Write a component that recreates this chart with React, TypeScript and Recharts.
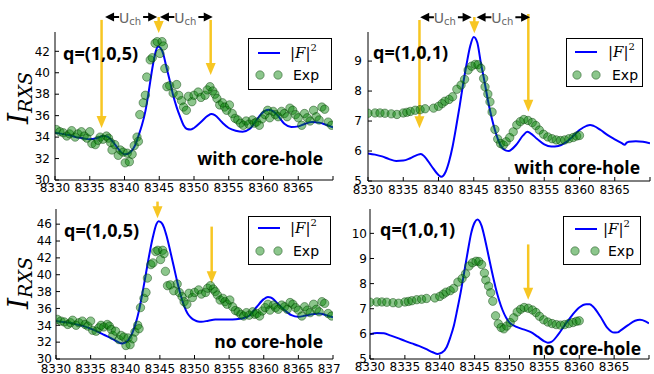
import React from "react";
import { ComposedChart, Line, Scatter, XAxis, YAxis, ReferenceLine, Legend } from "recharts";

// energy axis (eV)
const energyTicks = [8330, 8335, 8340, 8345, 8350, 8355, 8360, 8365, 8370];
const yTicks105Top = [30, 32, 34, 36, 38, 40, 42];
const yTicks105Bottom = [30, 32, 34, 36, 38, 40, 42, 44, 46];
const yTicks101Top = [5, 6, 7, 8, 9];
const yTicks101Bottom = [5, 6, 7, 8, 9, 10];

// |F|^2, q=(1,0,5), with core-hole
const calc105Core = [
  [8330, 34.4], [8331, 34.3], [8332, 34.2], [8333, 34.0], [8334, 33.9], [8335, 33.8], [8336, 33.9],
  [8337, 34.1], [8337.5, 34.05], [8338, 33.8], [8339, 33.0], [8339.5, 32.6], [8340, 32.4], [8340.5, 32.45],
  [8341, 32.7], [8341.5, 33.2], [8342, 34.1], [8342.5, 35.1], [8343, 36.4], [8343.5, 38.3], [8344, 40.4],
  [8344.5, 42.0], [8344.8, 42.45], [8345.2, 42.3], [8345.6, 41.7], [8346, 40.6], [8346.5, 39.3], [8347, 37.9],
  [8347.5, 36.8], [8348, 35.9], [8348.5, 35.1], [8349, 34.75], [8349.5, 34.7], [8350, 34.85], [8351, 35.4],
  [8352, 36.0], [8352.5, 36.15], [8353, 36.05], [8354, 35.4], [8355, 34.85], [8356, 34.6], [8357, 34.5],
  [8358, 34.75], [8359, 35.6], [8360, 36.35], [8360.7, 36.55], [8361.5, 36.35], [8362, 36.05], [8363, 35.25],
  [8364, 34.95], [8365, 35.0], [8366, 35.25], [8367, 35.4], [8368, 35.35], [8369, 35.15], [8370, 34.9],
];

// |F|^2, q=(1,0,5), no core-hole
const calc105NoCore = [
  [8330, 34.5], [8331, 34.4], [8332, 34.3], [8333, 34.1], [8334, 33.9], [8335, 33.6], [8336, 33.25],
  [8337, 32.85], [8338, 32.45], [8339, 32.0], [8339.5, 31.85], [8340, 31.95], [8340.5, 32.3], [8341, 33.05],
  [8341.5, 34.2], [8342, 35.8], [8342.5, 37.9], [8343, 40.2], [8343.5, 42.5], [8344, 44.5], [8344.5, 46.0],
  [8344.8, 46.35], [8345.2, 46.2], [8345.6, 45.6], [8346, 44.5], [8346.5, 42.8], [8347, 41.0], [8347.5, 39.2],
  [8348, 37.6], [8348.5, 36.3], [8349, 35.4], [8349.5, 34.9], [8350, 34.6], [8350.5, 34.45], [8351, 34.42],
  [8352, 34.55], [8353, 34.68], [8354, 34.7], [8355, 34.7], [8356, 34.72], [8357, 34.83], [8358, 35.2],
  [8359, 36.2], [8360, 37.1], [8360.6, 37.35], [8361, 37.3], [8362, 36.6], [8363, 35.8], [8364, 35.2],
  [8365, 35.0], [8366, 35.15], [8367, 35.3], [8368, 35.4], [8369, 35.2], [8370, 34.95],
];

// |F|^2, q=(1,0,1), with core-hole
const calc101Core = [
  [8330, 5.92], [8331, 5.88], [8332, 5.82], [8333, 5.73], [8334, 5.67], [8335, 5.68], [8336, 5.76],
  [8337, 5.87], [8337.5, 5.9], [8338, 5.82], [8339, 5.5], [8340, 5.2], [8340.4, 5.14], [8341, 5.3],
  [8341.5, 5.65], [8342, 6.15], [8342.5, 6.8], [8343, 7.5], [8343.5, 8.25], [8344, 8.92], [8344.5, 9.5],
  [8345, 9.8], [8345.5, 9.62], [8346, 8.95], [8346.5, 8.35], [8347, 7.7], [8347.5, 7.15], [8348, 6.7],
  [8348.5, 6.35], [8349, 6.12], [8349.5, 6.02], [8350, 6.0], [8350.5, 6.08], [8351, 6.2], [8352, 6.52],
  [8352.6, 6.64], [8353, 6.6], [8354, 6.4], [8355, 6.22], [8356, 6.15], [8357, 6.17], [8358, 6.28],
  [8359, 6.48], [8360, 6.7], [8361, 6.84], [8361.5, 6.87], [8362, 6.84], [8363, 6.7], [8364, 6.53],
  [8365, 6.39], [8366, 6.26], [8366.4, 6.21], [8366.7, 6.28], [8367, 6.31], [8368, 6.33], [8369, 6.31],
  [8370, 6.26],
];

// |F|^2, q=(1,0,1), no core-hole
const calc101NoCore = [
  [8330, 5.98], [8331, 6.03], [8332, 6.02], [8333, 5.93], [8334, 5.83], [8335, 5.72], [8336, 5.62],
  [8337, 5.52], [8338, 5.4], [8339, 5.27], [8339.7, 5.2], [8340.3, 5.25], [8341, 5.48], [8341.5, 5.85],
  [8342, 6.3], [8342.5, 6.95], [8343, 7.65], [8343.5, 8.45], [8344, 9.25], [8344.5, 10.0], [8345, 10.43],
  [8345.4, 10.55], [8346, 10.3], [8346.5, 9.75], [8347, 9.1], [8347.5, 8.45], [8348, 7.85], [8348.5, 7.35],
  [8349, 6.95], [8349.5, 6.65], [8350, 6.45], [8351, 6.28], [8352, 6.18], [8353, 6.08], [8354, 5.9],
  [8355, 5.7], [8355.5, 5.65], [8356, 5.68], [8357, 5.98], [8358, 6.38], [8359, 6.75], [8360, 7.05],
  [8361, 7.18], [8361.5, 7.18], [8362, 7.08], [8363, 6.7], [8364, 6.25], [8365, 6.05], [8365.5, 6.06],
  [8366, 6.15], [8367, 6.35], [8368, 6.52], [8368.7, 6.56], [8369.5, 6.5], [8370, 6.42],
];

// measured RXS, q=(1,0,5)
const exp105 = [
  [8330.2, 34.7], [8330.7, 34.5], [8331.2, 34.4], [8331.7, 34.1], [8332.1, 34.3], [8332.4, 34.6], [8332.9, 34.0],
  [8333.3, 34.3], [8333.8, 34.5], [8334.2, 34.1], [8334.6, 33.9], [8335.0, 34.5], [8335.3, 33.4], [8335.8, 33.3],
  [8336.2, 33.7], [8336.5, 34.0], [8336.9, 33.8], [8337.4, 34.1], [8337.7, 33.9], [8338.0, 33.5], [8338.2, 32.8],
  [8338.6, 33.3], [8339.1, 32.3], [8339.4, 32.8], [8339.8, 32.6], [8340.1, 31.6], [8340.4, 32.5], [8340.7, 31.7],
  [8341.1, 32.4], [8341.4, 33.2], [8341.8, 34.0], [8342.0, 33.6], [8342.2, 36.1], [8342.7, 37.2], [8343.0, 37.9],
  [8343.2, 39.6], [8343.7, 41.2], [8344.0, 41.4], [8344.4, 42.75], [8344.7, 42.9], [8345.1, 41.8], [8345.4, 42.9],
  [8345.6, 42.5], [8345.8, 40.4], [8346.1, 38.7], [8346.5, 38.8], [8347.0, 38.1], [8347.5, 38.9], [8347.8, 37.9],
  [8348.2, 37.4], [8348.5, 36.8], [8348.9, 36.5], [8349.2, 37.8], [8349.7, 37.3], [8350.0, 37.9], [8350.6, 38.2],
  [8351.0, 37.7], [8351.6, 37.9], [8351.9, 38.4], [8352.3, 38.7], [8352.7, 38.3], [8353.0, 38.0], [8353.3, 37.6],
  [8353.7, 37.0], [8354.1, 37.2], [8354.4, 36.8], [8354.7, 36.5], [8355.1, 37.0], [8355.5, 36.2], [8355.9, 35.75],
  [8356.3, 35.6], [8356.7, 35.3], [8357.1, 35.1], [8357.5, 35.5], [8357.9, 35.2], [8358.4, 35.6], [8358.7, 35.3],
  [8359.0, 35.4], [8359.4, 35.1], [8359.8, 35.7], [8360.2, 36.1], [8360.6, 36.5], [8360.9, 35.8], [8361.4, 36.4],
  [8361.7, 36.1], [8362.1, 35.9], [8362.6, 36.4], [8363.0, 36.2], [8363.4, 35.9], [8363.8, 36.7], [8364.2, 36.5],
  [8364.6, 36.1], [8365.0, 35.8], [8365.5, 35.1], [8365.9, 36.2], [8366.3, 35.8], [8366.7, 35.5], [8367.2, 36.5],
  [8367.6, 35.9], [8368.0, 35.6], [8368.4, 36.8], [8368.8, 36.6], [8369.3, 35.4], [8369.8, 35.1],
];

// measured RXS, q=(1,0,1)
const exp101 = [
  [8330.0, 7.26], [8331.0, 7.27], [8331.7, 7.27], [8332.4, 7.26], [8333.3, 7.24], [8334.1, 7.22], [8335.0, 7.27],
  [8335.5, 7.29], [8336.0, 7.32], [8336.7, 7.36], [8337.4, 7.38], [8338.1, 7.41], [8339.3, 7.43], [8340.0, 7.49],
  [8340.5, 7.58], [8340.9, 7.66], [8341.5, 7.72], [8342.0, 7.81], [8342.6, 8.06], [8343.2, 8.2], [8343.7, 8.39],
  [8344.2, 8.7], [8344.7, 8.83], [8345.2, 8.89], [8345.6, 8.88], [8346.0, 8.76], [8346.4, 8.42], [8346.6, 8.14],
  [8347.0, 7.9], [8347.3, 7.64], [8347.6, 7.3], [8348.0, 6.72], [8348.4, 6.4], [8348.8, 6.25], [8349.2, 6.2],
  [8349.6, 6.31], [8350.1, 6.45], [8350.6, 6.64], [8351.1, 6.87], [8351.6, 6.98], [8352.1, 7.05], [8352.7, 7.02],
  [8353.3, 6.95], [8353.8, 6.85], [8354.3, 6.7], [8354.9, 6.56], [8355.5, 6.47], [8356.1, 6.41], [8356.7, 6.37],
  [8357.3, 6.35], [8357.9, 6.37], [8358.5, 6.41], [8359.1, 6.45], [8359.6, 6.5], [8360.0, 6.52],
];

// annotation arrows: [energy, from, to] and U_ch spans: [from energy, to energy, level]
const goldTL = [[8336.7, 44.93, 34.85], [8344.92, 45.2, 43.71], [8352.4, 44.93, 39.8]];
const uchTL = [[8337.2, 8344.7, 45.2], [8345.1, 8352.7, 45.2]];
const goldTR = [[8337.3, 10.37, 6.76], [8345.08, 10.47, 9.93], [8352.74, 10.57, 7.31]];
const uchTR = [[8337.4, 8344.7, 10.46], [8345.4, 8353.0, 10.46]];
const goldBL = [[8344.66, 48.68, 46.71], [8352.48, 45.71, 39.0]];
const goldBR = [[8352.68, 9.56, 7.36]];

const toPts = (rows: number[][]) => rows.map(([e, v]) => ({ e, v }));

const GOLD = "#f7c623";
const BLUE = "#0000ff";
const tickFont = { fill: "#000", fontSize: 12, fontFamily: "DejaVu Sans" };

const dotShape = (p: any) => (
  <circle cx={p.cx} cy={p.cy} r={4.2} fill="#008000" fillOpacity={0.45} stroke="#003a00" strokeOpacity={0.55} strokeWidth={0.8} />
);

const goldArrow = (p: any) => {
  const { x1, y1, x2, y2 } = p;
  const head = 12;
  return (
    <g>
      <line x1={x1} y1={y1} x2={x2} y2={y2 - head + 1} stroke={GOLD} strokeWidth={2.5} />
      <polygon points={`${x2 - 5},${y2 - head} ${x2 + 5},${y2 - head} ${x2},${y2}`} fill={GOLD} />
    </g>
  );
};

const uchArrow = (p: any) => {
  const { x1, y1, x2 } = p;
  const mid = (x1 + x2) / 2;
  return (
    <g>
      <line x1={x1 + 6} x2={x2 - 6} y1={y1} y2={y1} stroke="#000" strokeWidth={2} />
      <polygon points={`${x1},${y1} ${x1 + 9},${y1 - 4.5} ${x1 + 9},${y1 + 4.5}`} fill="#000" />
      <polygon points={`${x2},${y1} ${x2 - 9},${y1 - 4.5} ${x2 - 9},${y1 + 4.5}`} fill="#000" />
      <rect x={mid - 12} y={y1 - 7} width={24} height={14} fill="#fff" />
      <text x={mid - 1} y={y1 + 6} textAnchor="middle" fill="#666" fontSize={14} fontFamily="DejaVu Sans">
        U<tspan fontSize={10} dy={2}>ch</tspan>
      </text>
    </g>
  );
};

type Leg = { left: number; top: number; w: number; h: number; rowA: number; rowB: number; textX: number; expX: number; dotA: number; dotB: number; lineA: number; lineB: number };

const legendContent = (l: Leg) => () => (
  <svg width={l.w} height={l.h} style={{ display: "block" }}>
    <rect x={0.5} y={0.5} width={l.w - 1} height={l.h - 1} fill="#fff" stroke="#000" />
    <line x1={l.lineA} x2={l.lineB} y1={l.rowA} y2={l.rowA} stroke={BLUE} strokeWidth={2} />
    <text x={l.textX} y={l.rowA + 5} fontFamily="DejaVu Serif" fontSize={15} fill="#000">
      |<tspan fontStyle="italic">F</tspan>|<tspan fontSize={10} dy={-7}>2</tspan>
    </text>
    {[l.dotA, l.dotB].map((cx) => (
      <circle key={cx} cx={cx} cy={l.rowB} r={4.2} fill="#008000" fillOpacity={0.45} stroke="#003a00" strokeOpacity={0.55} strokeWidth={0.8} />
    ))}
    <text x={l.expX} y={l.rowB + 5} fontFamily="DejaVu Sans" fontSize={14} fill="#000">Exp</text>
  </svg>
);

type PanelProps = {
  left: number; top: number; width: number; height: number;
  margin: { top: number; right: number; bottom: number; left: number };
  yW: number; xH: number; xTm: number; yTm: number;
  yDomain: [number, number]; yTicks: number[];
  curve: number[][]; exp: number[][];
  gold: number[][]; uch: number[][];
  legend: Leg; lastLabel: boolean;
};

function Panel(p: PanelProps) {
  return (
    <div style={{ position: "absolute", left: p.left, top: p.top, width: p.width, height: p.height }}>
      <ComposedChart width={p.width} height={p.height} margin={p.margin}>
        <XAxis
          dataKey="e" type="number" domain={[8330, 8370]} ticks={energyTicks} interval={0} allowDataOverflow
          height={p.xH} tickSize={-4} tickMargin={p.xTm} tick={tickFont} stroke="#000"
          tickFormatter={(v: number) => (v === 8370 && !p.lastLabel ? "" : String(v))}
        />
        <XAxis xAxisId="top" orientation="top" dataKey="e" type="number" domain={[8330, 8370]} ticks={energyTicks}
          interval={0} allowDataOverflow height={0} tickSize={-4} tick={false} stroke="#000" />
        <YAxis type="number" domain={p.yDomain} ticks={p.yTicks} interval={0} allowDataOverflow width={p.yW}
          tickSize={-4} tickMargin={p.yTm} tick={tickFont} stroke="#000" />
        <YAxis yAxisId="right" orientation="right" type="number" domain={p.yDomain} ticks={p.yTicks} interval={0}
          allowDataOverflow width={0} tickSize={-4} tick={false} stroke="#000" />
        <Line data={toPts(p.curve)} dataKey="v" type="monotone" stroke={BLUE} strokeWidth={2} dot={false} isAnimationActive={false} />
        <Scatter data={toPts(p.exp)} dataKey="v" shape={dotShape} isAnimationActive={false} />
        {p.gold.map(([e, a, b], i) => (
          <ReferenceLine key={"g" + i} segment={[{ x: e, y: a }, { x: e, y: b }]} ifOverflow="visible" shape={goldArrow} />
        ))}
        {p.uch.map(([a, b, y], i) => (
          <ReferenceLine key={"u" + i} segment={[{ x: a, y }, { x: b, y }]} ifOverflow="visible" shape={uchArrow} />
        ))}
        <Legend
          layout="horizontal" verticalAlign="middle" align="center"
          content={legendContent(p.legend)}
          wrapperStyle={{ left: p.legend.left, top: p.legend.top, width: p.legend.w, height: p.legend.h, margin: 0 }}
        />
      </ComposedChart>
    </div>
  );
}

const boldText = { fontFamily: "Open Sans", fontWeight: 700, fill: "#000" } as const;

function YLabel({ x, y }: { x: number; y: number }) {
  return (
    <text transform={`translate(${x},${y}) rotate(-90)`} textAnchor="middle" fontFamily="DejaVu Serif" fontStyle="italic" fontSize={28} fill="#000">
      I<tspan fontSize={19} dy={4}>RXS</tspan>
    </text>
  );
}

export default function App() {
  return (
    <div style={{ position: "absolute", left: 0, top: 0, width: 654, height: 374, background: "#fff", overflow: "hidden" }}>
      <Panel
        left={0} top={0} width={336} height={200} margin={{ top: 32, right: 3, bottom: 0, left: 0 }}
        yW={55} xH={20} xTm={7} yTm={9} yDomain={[30, 43.8]} yTicks={yTicks105Top}
        curve={calc105Core} exp={exp105} gold={goldTL} uch={uchTL} lastLabel={false}
        legend={{ left: 248, top: 38, w: 84, h: 52, rowA: 15, rowB: 37, lineA: 10, lineB: 32, textX: 42, dotA: 12, dotB: 30, expX: 45 }}
      />
      <Panel
        left={312} top={0} width={342} height={200} margin={{ top: 32, right: 4, bottom: 0, left: 0 }}
        yW={56} xH={19} xTm={8} yTm={10} yDomain={[5, 9.97]} yTicks={yTicks101Top}
        curve={calc101Core} exp={exp101} gold={goldTR} uch={uchTR} lastLabel={false}
        legend={{ left: 254, top: 38, w: 77, h: 49, rowA: 14, rowB: 37, lineA: 9, lineB: 31, textX: 42, dotA: 11, dotB: 30, expX: 46 }}
      />
      <Panel
        left={0} top={185} width={340} height={189} margin={{ top: 24, right: 7, bottom: 0, left: 0 }}
        yW={56} xH={15} xTm={9} yTm={8} yDomain={[30, 47.8]} yTicks={yTicks105Bottom}
        curve={calc105NoCore} exp={exp105} gold={goldBL} uch={[]} lastLabel={true}
        legend={{ left: 248, top: 31, w: 83, h: 49, rowA: 12, rowB: 35, lineA: 10, lineB: 32, textX: 42, dotA: 12, dotB: 30, expX: 45 }}
      />
      <Panel
        left={340} top={197} width={314} height={177} margin={{ top: 12, right: 5, bottom: 0, left: 0 }}
        yW={30} xH={15} xTm={7} yTm={7} yDomain={[5, 10.97]} yTicks={yTicks101Bottom}
        curve={calc101NoCore} exp={exp101} gold={goldBR} uch={[]} lastLabel={false}
        legend={{ left: 223, top: 19, w: 78, h: 49, rowA: 13, rowB: 35, lineA: 12, lineB: 34, textX: 40, dotA: 12, dotB: 32, expX: 45 }}
      />
      <svg width={654} height={374} style={{ position: "absolute", left: 0, top: 0, pointerEvents: "none" }}>
        <YLabel x={28} y={98} />
        <YLabel x={28} y={283} />
        <text x={63} y={60} fontSize={18} {...boldText}>q=(1,0,5)</text>
        <text x={323} y={165} fontSize={17.5} textAnchor="end" {...boldText}>with core-hole</text>
        <text x={373} y={59} fontSize={18} {...boldText}>q=(1,0,1)</text>
        <text x={640} y={174} fontSize={17.5} textAnchor="end" {...boldText}>with core-hole</text>
        <text x={64} y={237} fontSize={18} {...boldText}>q=(1,0,5)</text>
        <text x={323} y={348} fontSize={17.5} textAnchor="end" {...boldText}>no core-hole</text>
        <text x={380} y={236} fontSize={18} {...boldText}>q=(1,0,1)</text>
        <text x={641} y={355} fontSize={17.5} textAnchor="end" {...boldText}>no core-hole</text>
      </svg>
    </div>
  );
}
